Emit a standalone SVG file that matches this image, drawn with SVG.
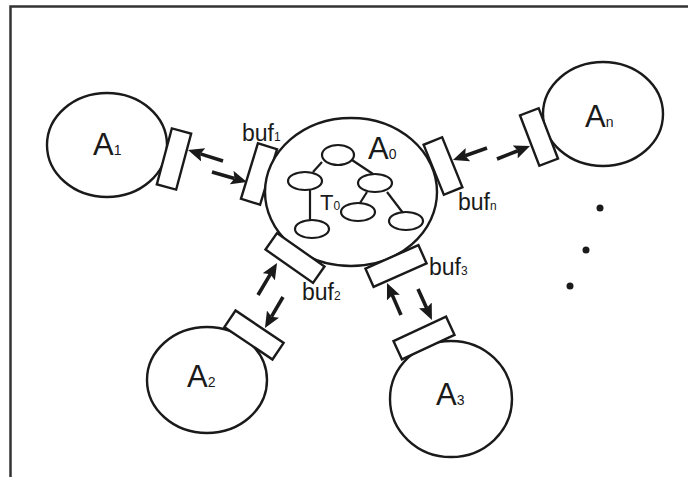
<svg xmlns="http://www.w3.org/2000/svg" width="688" height="477" viewBox="0 0 688 477">
<style>
.frame{fill:none;stroke:#333;stroke-width:2.5}
.node{fill:#fff;stroke:#1a1a1a;stroke-width:2.4}
.buf{fill:#fff;stroke:#1a1a1a;stroke-width:2.4}
.tree{fill:#fff;stroke:#1a1a1a;stroke-width:2.2}
.edge{stroke:#1a1a1a;stroke-width:2.2}
.arr{stroke:#1a1a1a;stroke-width:3.6;fill:none;marker-end:url(#ah)}
text{font-family:"Liberation Sans",Arial,sans-serif;fill:#1a1a1a}
.big{font-size:31px}
.sub{font-size:14px}
.lbl{font-size:23px}
.lsub{font-size:12px}
</style>
<defs>
<marker id="ah" viewBox="0 0 16 14" refX="3" refY="7" markerWidth="16" markerHeight="14" markerUnits="userSpaceOnUse" orient="auto">
<path d="M0,0 L16,7 L0,14 L3,7 z" fill="#1a1a1a"/>
</marker>
</defs>
<rect width="688" height="477" fill="#fff"/>
<path class="frame" d="M10.5,477 L10.5,6.5 L688,6.5"/>

<g id="A1">
<ellipse class="node" cx="107" cy="145" rx="60" ry="52"/>
<text x="93" y="155"><tspan class="big">A</tspan><tspan class="sub">1</tspan></text>
</g>
<g id="A1-buf">
<rect class="buf" x="-10" y="-29" width="20" height="58" transform="translate(174 159) rotate(15)"/>
</g>
<g id="buf1">
<rect class="buf" x="-10" y="-29" width="20" height="58" transform="translate(259 174) rotate(17)"/>
<text x="242" y="141"><tspan class="lbl">buf</tspan><tspan class="lsub">1</tspan></text>
</g>

<g id="A0">
<ellipse class="node" cx="351" cy="192" rx="86" ry="74"/>
<text x="368" y="159"><tspan class="big">A</tspan><tspan class="sub">0</tspan></text>
<g id="T0">
<line class="edge" x1="322" y1="162" x2="313" y2="172"/>
<line class="edge" x1="352" y1="160" x2="373" y2="174"/>
<line class="edge" x1="310" y1="190" x2="310" y2="220"/>
<line class="edge" x1="367" y1="192" x2="360" y2="203"/>
<line class="edge" x1="387" y1="192" x2="403" y2="213"/>
<ellipse class="tree" cx="338" cy="155" rx="16" ry="10"/>
<ellipse class="tree" cx="305" cy="181" rx="17" ry="9"/>
<ellipse class="tree" cx="375" cy="183" rx="17" ry="9"/>
<ellipse class="tree" cx="312" cy="229" rx="17" ry="9"/>
<ellipse class="tree" cx="358" cy="212" rx="17" ry="9"/>
<ellipse class="tree" cx="406" cy="221" rx="17" ry="9"/>
<text x="320" y="210"><tspan style="font-size:22px">T</tspan><tspan class="lsub">0</tspan></text>
</g>
</g>

<g id="bufn">
<rect class="buf" x="-10" y="-27" width="20" height="54" transform="translate(443 166) rotate(-22)"/>
<text x="458" y="210"><tspan class="lbl">buf</tspan><tspan class="lsub">n</tspan></text>
</g>
<g id="An">
<ellipse class="node" cx="603" cy="114" rx="60" ry="52"/>
<text x="585" y="127"><tspan class="big">A</tspan><tspan class="sub">n</tspan></text>
</g>
<g id="An-buf">
<rect class="buf" x="-10" y="-27" width="20" height="54" transform="translate(539 137) rotate(-21)"/>
</g>

<g id="buf2">
<rect class="buf" x="-29" y="-10" width="58" height="20" transform="translate(295 258) rotate(35)"/>
<text x="302" y="300"><tspan class="lbl">buf</tspan><tspan class="lsub">2</tspan></text>
</g>
<g id="A2">
<ellipse class="node" cx="207" cy="380" rx="60" ry="53"/>
<text x="187" y="387"><tspan class="big">A</tspan><tspan class="sub">2</tspan></text>
</g>
<g id="A2-buf">
<rect class="buf" x="-29" y="-10" width="58" height="20" transform="translate(254 335) rotate(34)"/>
</g>

<g id="buf3">
<rect class="buf" x="-29" y="-10" width="58" height="20" transform="translate(396 266) rotate(-24)"/>
<text x="429" y="275"><tspan class="lbl">buf</tspan><tspan class="lsub">3</tspan></text>
</g>
<g id="A3">
<ellipse class="node" cx="451" cy="399" rx="61" ry="58"/>
<text x="436" y="405"><tspan class="big">A</tspan><tspan class="sub">3</tspan></text>
</g>
<g id="A3-buf">
<rect class="buf" x="-29" y="-10" width="58" height="20" transform="translate(424 338) rotate(-25)"/>
</g>

<g id="connectors">
<line class="arr" x1="223" y1="161" x2="200.4" y2="153.9"/>
<line class="arr" x1="212" y1="172" x2="234.5" y2="178.4"/>
<line class="arr" x1="487" y1="148" x2="465.2" y2="155.7"/>
<line class="arr" x1="497" y1="159" x2="517.9" y2="150.8"/>
<line class="arr" x1="258" y1="295" x2="270.4" y2="274.2"/>
<line class="arr" x1="283" y1="297" x2="271.5" y2="316.7"/>
<line class="arr" x1="401" y1="315" x2="392.2" y2="294.9"/>
<line class="arr" x1="418" y1="289" x2="426.6" y2="308.1"/>
</g>

<g id="dots" fill="#1a1a1a">
<circle cx="600" cy="208" r="3.5"/>
<circle cx="586" cy="250" r="3.5"/>
<circle cx="570" cy="286" r="3.5"/>
</g>
</svg>
